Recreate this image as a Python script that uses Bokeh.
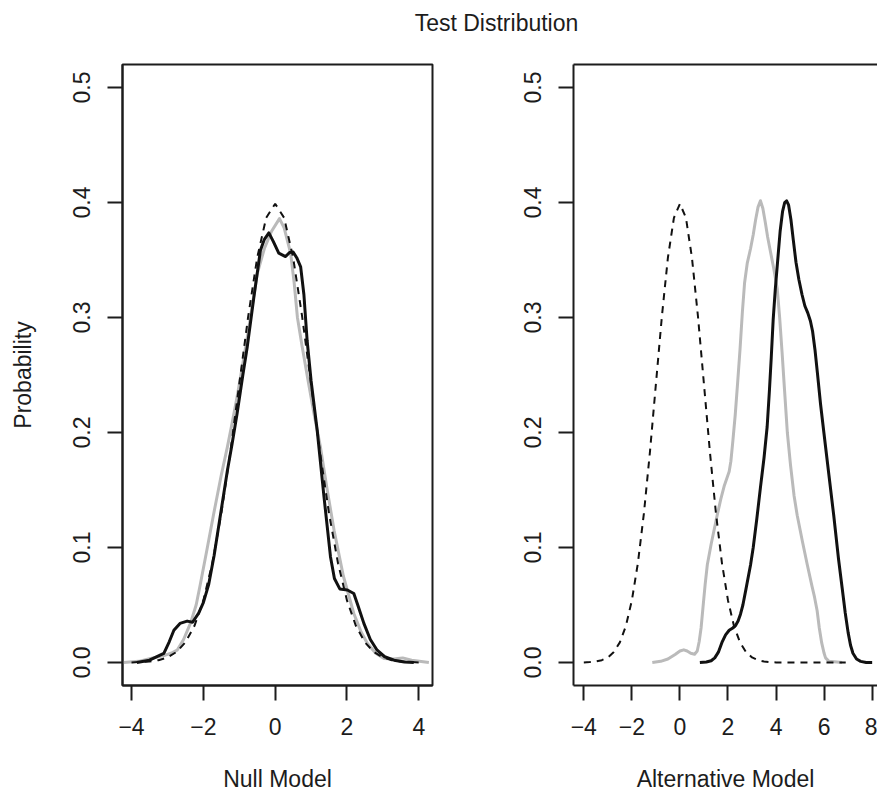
from bokeh.plotting import figure
from bokeh.models import Range1d, FixedTicker, LinearAxis, Title
from bokeh.layouts import column, row
from bokeh.embed import file_html
from bokeh.resources import INLINE

FONT = "Liberation Sans"

# ---------------- data ----------------
title_text = "Test Distribution"
left_xlabel = "Null Model"
right_xlabel = "Alternative Model"
ylabel = "Probability"

left_xticks = [-4, -2, 0, 2, 4]
left_xtick_labels = ["\u22124", "\u22122", "0", "2", "4"]
right_xticks = [-4, -2, 0, 2, 4, 6, 8]
right_xtick_labels = ["\u22124", "\u22122", "0", "2", "4", "6", "8"]
yticks = [0.0, 0.1, 0.2, 0.3, 0.4, 0.5]
ytick_labels = ["0.0", "0.1", "0.2", "0.3", "0.4", "0.5"]

# reference (dashed) curve, both panels
norm_x = [-4.0, -3.75, -3.5, -3.25, -3.0, -2.75, -2.5, -2.25, -2.0, -1.75, -1.5,
          -1.25, -1.0, -0.75, -0.5, -0.25, 0.0, 0.25, 0.5, 0.75, 1.0, 1.25,
          1.5, 1.75, 2.0, 2.25, 2.5, 2.75, 3.0, 3.25, 3.5, 3.75, 4.0]
norm_y = [0.0001, 0.0004, 0.0009, 0.002, 0.0044, 0.0091, 0.0175, 0.0317, 0.054,
          0.0863, 0.1295, 0.1826, 0.242, 0.3011, 0.3521, 0.3867, 0.3989, 0.3867,
          0.3521, 0.3011, 0.242, 0.1826, 0.1295, 0.0863, 0.054, 0.0317, 0.0175,
          0.0091, 0.0044, 0.002, 0.0009, 0.0004, 0.0001]
alt_dash_x = norm_x + [5.0, 6.0, 6.9]
alt_dash_y = norm_y + [0.0, 0.0, 0.0]

# null model panel
null_black_x = [-3.85, -3.5, -3.1, -2.95, -2.82, -2.65, -2.45, -2.3, -2.13, -2.0,
                -1.85, -1.7, -1.55, -1.33, -1.2, -1.06, -0.9, -0.78, -0.6, -0.41,
                -0.3, -0.175, -0.05, 0.1, 0.29, 0.4, 0.5, 0.6, 0.71, 0.8, 0.89,
                1.0, 1.17, 1.36, 1.54, 1.65, 1.8, 2.01, 2.19, 2.3, 2.47, 2.65,
                2.84, 3.05, 3.31, 3.6, 3.86]
null_black_y = [0.0, 0.002, 0.008, 0.018, 0.028, 0.034, 0.036, 0.035, 0.043, 0.052,
                0.068, 0.093, 0.123, 0.167, 0.19, 0.2165, 0.25, 0.274, 0.316, 0.3585,
                0.368, 0.3736, 0.366, 0.356, 0.353, 0.3565, 0.357, 0.352, 0.344, 0.32,
                0.28, 0.245, 0.202, 0.144, 0.092, 0.073, 0.064, 0.063, 0.06, 0.05,
                0.034, 0.02, 0.0107, 0.005, 0.002, 0.0005, 0.0]
null_gray_x = [-4.22, -3.8, -3.47, -3.1, -2.9, -2.73, -2.55, -2.36, -2.2, -2.08,
               -1.9, -1.71, -1.5, -1.33, -1.2, -1.06, -0.9, -0.78, -0.5, -0.3,
               -0.1, 0.12, 0.25, 0.43, 0.53, 0.62, 0.75, 0.9, 1.08, 1.26, 1.45,
               1.64, 1.9, 2.19, 2.4, 2.57, 2.8, 3.03, 3.3, 3.55, 3.8, 4.28]
null_gray_y = [0.0, 0.001, 0.0035, 0.006, 0.008, 0.0107, 0.02, 0.034, 0.05, 0.0687,
               0.098, 0.1296, 0.163, 0.1875, 0.208, 0.231, 0.26, 0.282, 0.338, 0.36,
               0.375, 0.386, 0.378, 0.356, 0.33, 0.3, 0.275, 0.248, 0.2165, 0.1875,
               0.15, 0.115, 0.075, 0.0426, 0.026, 0.0165, 0.008, 0.0035, 0.003,
               0.004, 0.002, 0.0]

# alternative model panel
alt_gray_x = [-1.15, -0.8, -0.5, -0.2, 0.0, 0.16, 0.3, 0.45, 0.61, 0.72, 0.8, 0.88,
              0.96, 1.05, 1.14, 1.3, 1.45, 1.55, 1.7, 1.85, 1.95, 2.05, 2.12, 2.2,
              2.3, 2.4, 2.5, 2.6, 2.69, 2.8, 2.94, 3.05, 3.15, 3.25, 3.35, 3.45,
              3.55, 3.65, 3.77, 3.9, 4.05, 4.15, 4.25, 4.35, 4.47, 4.6, 4.75, 4.88,
              5.1, 5.3, 5.5, 5.6, 5.71, 5.8, 5.9, 6.0, 6.06, 6.2, 6.75]
alt_gray_y = [0.0, 0.001, 0.003, 0.007, 0.01, 0.011, 0.01, 0.008, 0.0072, 0.01,
              0.018, 0.03, 0.048, 0.068, 0.085, 0.103, 0.118, 0.128, 0.142, 0.154,
              0.16, 0.166, 0.175, 0.192, 0.215, 0.243, 0.272, 0.305, 0.33, 0.347,
              0.36, 0.372, 0.385, 0.396, 0.4015, 0.395, 0.383, 0.37, 0.357, 0.343,
              0.325, 0.3, 0.27, 0.238, 0.2, 0.172, 0.145, 0.128, 0.105, 0.085,
              0.066, 0.057, 0.045, 0.03, 0.017, 0.008, 0.004, 0.001, 0.0]
alt_black_x = [0.83, 1.1, 1.3, 1.45, 1.6, 1.76, 1.9, 2.05, 2.2, 2.31, 2.42, 2.52,
               2.62, 2.75, 2.94, 3.05, 3.2, 3.35, 3.5, 3.63, 3.72, 3.8, 3.88, 3.97,
               4.07, 4.17, 4.27, 4.36, 4.44, 4.52, 4.62, 4.72, 4.83, 4.95, 5.08,
               5.2, 5.32, 5.43, 5.52, 5.62, 5.72, 5.85, 5.99, 6.2, 6.4, 6.6, 6.75,
               6.88, 7.0, 7.1, 7.2, 7.35, 7.52, 7.75, 8.0]
alt_black_y = [0.0, 0.0005, 0.0015, 0.004, 0.009, 0.018, 0.024, 0.028, 0.03, 0.032,
               0.036, 0.042, 0.05, 0.064, 0.085, 0.1, 0.125, 0.152, 0.178, 0.205,
               0.235, 0.265, 0.298, 0.325, 0.35, 0.375, 0.392, 0.4, 0.4015, 0.398,
               0.385, 0.367, 0.348, 0.333, 0.32, 0.31, 0.304, 0.297, 0.288, 0.272,
               0.252, 0.225, 0.2, 0.163, 0.128, 0.09, 0.065, 0.043, 0.026, 0.015,
               0.008, 0.003, 0.001, 0.0, 0.0]

# ---------------- styling ----------------
INK = "#1c1c1c"
GRAY = "#bababa"
FS = "23px"


def style_axis(ax, ticks, labels, vertical=False):
    ax.ticker = FixedTicker(ticks=ticks)
    ax.major_label_overrides = {t: l for t, l in zip(ticks, labels)}
    ax.major_tick_out = 15
    ax.major_tick_in = 0
    ax.major_tick_line_width = 2
    ax.major_tick_line_color = INK
    ax.minor_tick_line_color = None
    ax.axis_line_width = 2
    ax.axis_line_color = INK
    ax.major_label_text_font = FONT
    ax.major_label_text_font_size = FS
    ax.major_label_text_color = INK
    ax.axis_label_text_font = FONT
    ax.axis_label_text_font_size = FS
    ax.axis_label_text_font_style = "normal"
    ax.axis_label_text_color = INK
    if vertical:
        ax.major_label_orientation = "vertical"


def panel(width, xr, min_left, min_right, xticks, xlabels, xlabel, ylab=None):
    p = figure(width=width, height=739, x_range=Range1d(*xr),
               y_range=Range1d(-0.02, 0.52), output_backend="svg",
               toolbar_location=None, min_border_left=min_left,
               min_border_right=min_right, min_border_top=8,
               min_border_bottom=110, background_fill_color="white",
               border_fill_color="white")
    p.grid.visible = False
    style_axis(p.xaxis[0], xticks, xlabels)
    style_axis(p.yaxis[0], yticks, ytick_labels, vertical=True)
    p.xaxis[0].major_label_standoff = 17
    p.yaxis[0].major_label_standoff = 18
    p.xaxis[0].axis_label = xlabel
    p.xaxis[0].axis_label_standoff = 28
    if ylab:
        p.yaxis[0].axis_label = ylab
        p.yaxis[0].axis_label_standoff = 34
    return p


# title strip
pt = figure(width=877, height=56, output_backend="svg", toolbar_location=None,
            x_axis_location=None, y_axis_location=None, min_border_left=115,
            min_border_right=0, min_border_top=40, min_border_bottom=0,
            border_fill_color="white", background_fill_color="white")
pt.outline_line_color = None
pt.grid.visible = False
pt.title = Title(text=title_text, align="center", text_font=FONT,
                 text_font_size=FS, text_font_style="normal", text_color=INK)

# left panel
p1 = panel(480, (-4.251, 4.381), 122, 48, left_xticks, left_xtick_labels,
           left_xlabel, ylab=ylabel)
p1.outline_line_color = INK
p1.outline_line_width = 2
p1.line(null_gray_x, null_gray_y, line_width=3, color=GRAY, line_join="round")
p1.line(null_black_x, null_black_y, line_width=3, color="#111111", line_join="round")
p1.line(norm_x, norm_y, line_width=2, color="#111111", line_dash="7 6")

# right panel (cut off at the right edge like the reference)
p2 = panel(397, (-4.429, 8.222), 93, 0, right_xticks, right_xtick_labels,
           right_xlabel)
p2.outline_line_color = None
top = LinearAxis(major_tick_line_color=None, minor_tick_line_color=None,
                 major_label_text_font_size="0px", major_label_standoff=0,
                 major_tick_out=0, major_tick_in=0, axis_line_width=2,
                 axis_line_color=INK)
top.ticker = FixedTicker(ticks=[])
p2.add_layout(top, "above")
p2.line(alt_gray_x, alt_gray_y, line_width=3, color=GRAY, line_join="round")
p2.line(alt_black_x, alt_black_y, line_width=3, color="#111111", line_join="round")
p2.line(alt_dash_x, alt_dash_y, line_width=2, color="#111111", line_dash="7 6")

layout = column(pt, row(p1, p2))
open("out.html", "w").write(file_html(layout, INLINE))
